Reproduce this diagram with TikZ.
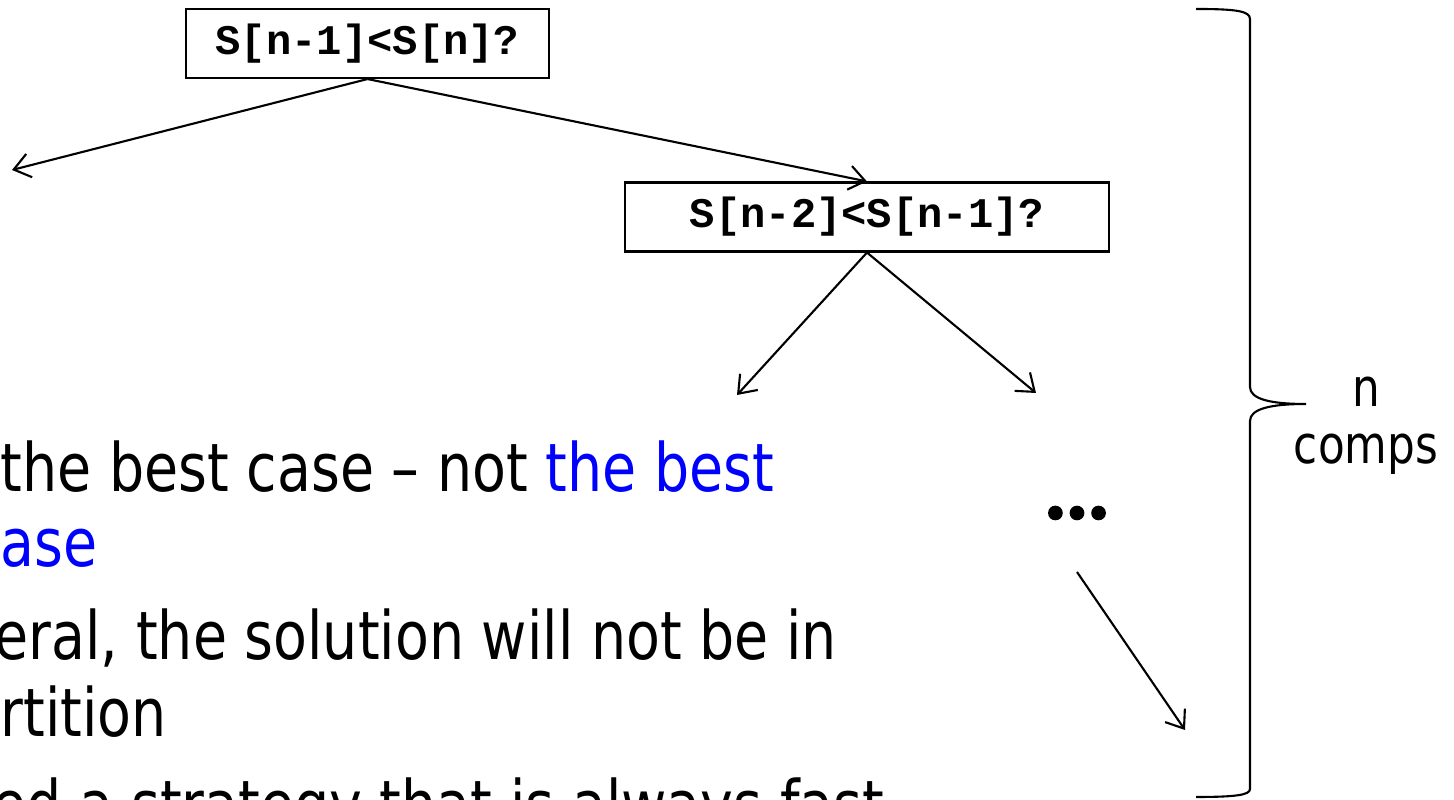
\documentclass[tikz,border=0pt]{standalone}
\usepackage{fontspec}
\setmainfont[FakeStretch=0.83]{DejaVu Sans}
\newfontfamily\codefont{Liberation Mono}
\newfontfamily\dotfont[BoldFeatures={FakeBold=3}]{Lato}
\usetikzlibrary{arrows.meta, positioning}

\tikzset{
  test/.style={draw, line width=0.6pt, inner sep=0pt, minimum height=0.69cm,
    font=\codefont\bfseries\fontsize{12}{14}\selectfont},
  branch/.style={line width=0.6pt, -{Straight Barb[length=1.6mm, width=2.4mm]}},
  bullet/.style={anchor=base west, inner sep=0pt, font=\fontsize{19}{22}\selectfont},
}

\begin{document}
\begin{tikzpicture}
  \useasboundingbox (0,0) rectangle (14.54,8);
  \clip (0,0) rectangle (14.54,8);
  % the comparisons
  \node[test, minimum width=3.63cm] (C1) at (3.675,7.565) {S[n-1]<S[n]?};
  \node[test, minimum width=4.84cm] (C2) at (8.67,5.83) {S[n-2]<S[n-1]?};
  \coordinate (L1) at (0.12,6.30);
  \coordinate (L2) at (7.37,4.05);
  \coordinate (R2) at (10.36,4.07);
  \node[inner sep=0pt, font=\dotfont\bfseries\fontsize{23}{23}\selectfont] (dots) at (10.77,2.87) {…};
  \coordinate (D1) at (10.77,2.28);
  \coordinate (D2) at (11.85,0.70);
  \draw[branch] (C1.south) -- (L1);
  \draw[branch] (C1.south) -- (C2.north);
  \draw[branch] (C2.south) -- (L2);
  \draw[branch] (C2.south) -- (R2);
  \draw[branch] (D1) -- (D2);
  % brace and count
  \draw[line width=0.6pt] (11.96,7.91) .. controls (12.36,7.91) and (12.50,7.89) .. (12.50,7.81)
    -- (12.50,4.13) .. controls (12.50,4.01) and (12.70,3.96) .. (13.06,3.96)
    .. controls (12.70,3.96) and (12.50,3.91) .. (12.50,3.79)
    -- (12.50,0.11) .. controls (12.50,0.05) and (12.36,0.03) .. (11.96,0.03);
  \node[anchor=north, align=center, inner sep=0pt, font=\fontsize{15}{16.4}\selectfont] (count) at (13.66,4.24) {n\\comps};
  % slide text
  \node[bullet] (t1) at (0.0,3.08) {the best case – not \textcolor{blue}{the best}};
  \node[bullet, text=blue] (t2) at (0.0,2.33) {ase};
  \node[bullet] (t3) at (-0.06,1.40) {eral, the solution will not be in};
  \node[bullet] (t4) at (0.0,0.63) {rtition};
  \node[bullet] (t5) at (-0.08,-0.29) {ed a strategy that is always fast};
\end{tikzpicture}
\end{document}
